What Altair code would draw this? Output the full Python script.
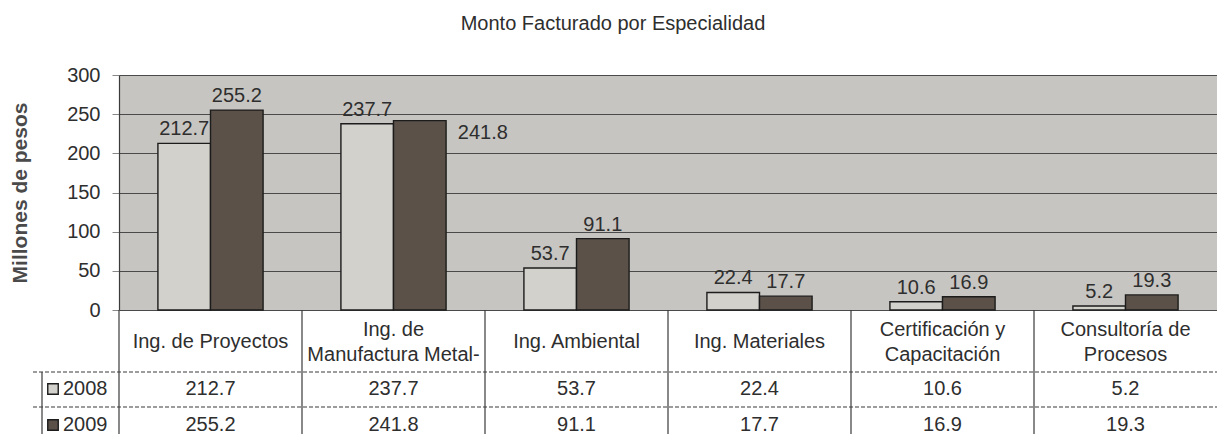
import altair as alt
import pandas as pd

# ---- data ----
categories = [
    "Ing. de Proyectos",
    "Ing. de Manufactura Metal-",
    "Ing. Ambiental",
    "Ing. Materiales",
    "Certificación y Capacitación",
    "Consultoría de Procesos",
]
header_labels = [
    "Ing. de Proyectos",
    "Ing. de\nManufactura Metal-",
    "Ing. Ambiental",
    "Ing. Materiales",
    "Certificación y\nCapacitación",
    "Consultoría de\nProcesos",
]
years = ["2008", "2009"]
values_2008 = [212.7, 237.7, 53.7, 22.4, 10.6, 5.2]
values_2009 = [255.2, 241.8, 91.1, 17.7, 16.9, 19.3]
y_ticks = [0, 50, 100, 150, 200, 250, 300]

title_text = "Monto Facturado por Especialidad"
y_title = "Millones de pesos"

# ---- tables built from the arrays ----
rows = []
for c, v in zip(categories, values_2008):
    rows.append({"cat": c, "year": "2008", "value": v, "label": f"{v:.1f}"})
for c, v in zip(categories, values_2009):
    rows.append({"cat": c, "year": "2009", "value": v, "label": f"{v:.1f}"})
df = pd.DataFrame(rows)

hrows = []
for c, h in zip(categories, header_labels):
    parts = h.split("\n")
    for i, p in enumerate(parts):
        hrows.append({"cat": c, "line": p, "idx": i, "n": len(parts)})
df_head = pd.DataFrame(hrows)
df_cats = pd.DataFrame({"cat": categories})
df_years = pd.DataFrame({"year": years})
one = pd.DataFrame({"k": [0]})

FONT = "Liberation Sans"
TXT = "#2e2e2e"
LINE = "#3a3a3a"
C08 = "#d3d1cc"
C09 = "#5b5149"
FS = 20

W, H = 1098, 235
BOTTOM = H + 140

xenc = alt.X("cat:N", sort=categories, axis=None,
             scale=alt.Scale(paddingInner=0, paddingOuter=0))
xoff = alt.XOffset("year:N", sort=years,
                   scale=alt.Scale(paddingInner=0, paddingOuter=0.74))
yenc = alt.Y("value:Q", scale=alt.Scale(domain=[0, 300], nice=False),
             axis=alt.Axis(values=y_ticks, labelOverlap=False,
                           grid=True, gridColor="#4a4a4a",
                           gridWidth=1.2, domain=True, domainColor=LINE,
                           domainWidth=1.2, ticks=True, tickColor="#888888",
                           tickSize=7, labelFontSize=FS, labelColor=TXT,
                           labelFont=FONT, labelPadding=12,
                           title=y_title, titleFontSize=21, titleFont=FONT,
                           titleFontWeight="bold", titleColor="#4a4a4a",
                           titleX=-99, titleY=117.5, titleAngle=270,
                           titleAlign="center", titleBaseline="middle"))
cenc = alt.Color("year:N", scale=alt.Scale(domain=years, range=[C08, C09]),
                 legend=None)

bars = alt.Chart(df).mark_bar(stroke="#1c1c1c", strokeWidth=1.4).encode(
    x=xenc, xOffset=xoff, y=yenc, color=cenc)

side_label = (alt.datum.cat == categories[1]) & (alt.datum.year == "2009")

labels = alt.Chart(df).transform_filter(~side_label).mark_text(
    baseline="bottom", dy=-4, fontSize=FS, font=FONT, color=TXT).encode(
    x=xenc, xOffset=xoff, y=yenc, text="label:N")

# the one label that the original places beside its bar
label_side = alt.Chart(df).transform_filter(side_label).mark_text(
    baseline="middle", align="left", dx=38, dy=12, fontSize=FS, font=FONT,
    color=TXT).encode(
    x=xenc, xOffset=xoff, y=yenc, text="label:N")

title = alt.Chart(one).mark_text(fontSize=FS, font=FONT, color=TXT,
                                 align="center", baseline="middle").encode(
    x=alt.value(494), y=alt.value(-51), text=alt.value(title_text))

# ---- data table below the plot ----
def header_layer(n, idx, ypix):
    return alt.Chart(df_head).transform_filter(
        (alt.datum.n == n) & (alt.datum.idx == idx)
    ).mark_text(fontSize=FS, font=FONT, color=TXT, baseline="middle").encode(
        x=xenc, y=alt.value(ypix), text="line:N")

head_single = header_layer(1, 0, 267)
head_top = header_layer(2, 0, 255)
head_bot = header_layer(2, 1, 280)

def row_layer(year, ypix):
    return alt.Chart(df).transform_filter(alt.datum.year == year).mark_text(
        fontSize=FS, font=FONT, color=TXT, baseline="middle").encode(
        x=xenc, y=alt.value(ypix), text="label:N")

row08 = row_layer("2008", 314)
row09 = row_layer("2009", 350)

def legend_layers(year, ypix):
    sw = alt.Chart(df_years).transform_filter(alt.datum.year == year).mark_square(
        size=110, filled=True, stroke="#1c1c1c", strokeWidth=1.4, opacity=1).encode(
        x=alt.value(-66), y=alt.value(ypix), color=cenc)
    tx = alt.Chart(df_years).transform_filter(alt.datum.year == year).mark_text(
        fontSize=FS, font=FONT, color=TXT, align="left", baseline="middle").encode(
        x=alt.value(-56), y=alt.value(ypix), text="year:N")
    return sw, tx

sw08, t08 = legend_layers("2008", 314)
sw09, t09 = legend_layers("2009", 350)

vlines = alt.Chart(df_cats).mark_rule(color=LINE, strokeWidth=1.2).encode(
    x=alt.X("cat:N", sort=categories, axis=None, bandPosition=0,
            scale=alt.Scale(paddingInner=0, paddingOuter=0)),
    y=alt.value(H), y2=alt.value(BOTTOM))
leg_left = alt.Chart(one).mark_rule(color=LINE, strokeWidth=1.2).encode(
    x=alt.value(-77), y=alt.value(297), y2=alt.value(BOTTOM))
hline1 = alt.Chart(one).mark_rule(color=LINE, strokeWidth=1.1, strokeDash=[4, 2]).encode(
    x=alt.value(-86), x2=alt.value(W), y=alt.value(297))
hline2 = alt.Chart(one).mark_rule(color=LINE, strokeWidth=1.1, strokeDash=[4, 2]).encode(
    x=alt.value(-86), x2=alt.value(W), y=alt.value(332))

chart = alt.layer(
    bars, labels, label_side, title, head_single, head_top, head_bot,
    row08, row09, vlines, leg_left, hline1, hline2, sw08, t08, sw09, t09,
).properties(
    width=W, height=H,
    padding={"left": 111, "top": 67, "right": 0, "bottom": 124},
    autosize=alt.AutoSizeParams(type="none"),
    background="white",
).configure_view(fill="#c7c5c1", stroke=None)

chart.save("out.html", embed_options={"renderer": "svg", "actions": False})
